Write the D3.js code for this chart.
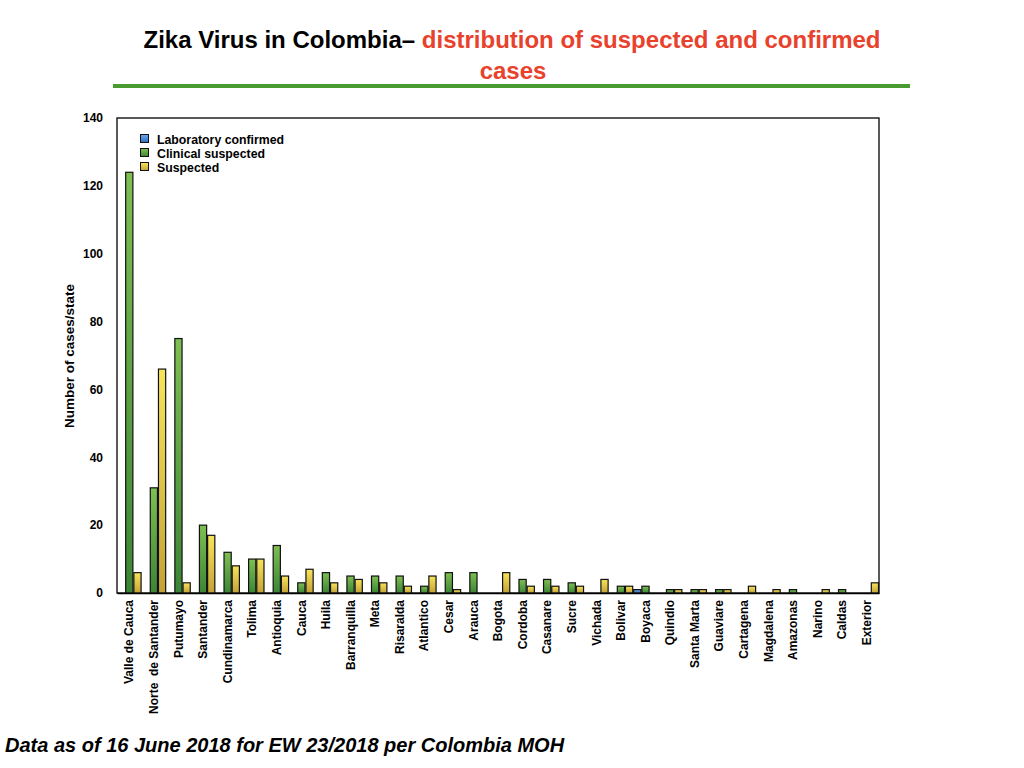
<!DOCTYPE html>
<html><head><meta charset="utf-8">
<script src="https://cdn.jsdelivr.net/npm/d3@7"></script>
<style>
body{margin:0;background:#fff;}
text{font-family:"Liberation Sans",Arial,Helvetica,sans-serif;}
</style></head>
<body>
<svg id="c" width="1024" height="768"></svg>
<script>
const categories = ["Valle de Cauca","Norte  de Santander","Putumayo","Santander","Cundinamarca","Tolima","Antioquia","Cauca","Huila","Barranquilla","Meta","Risaralda","Atlantico","Cesar","Arauca","Bogota","Cordoba","Casanare","Sucre","Vichada","Bolivar","Boyaca","Quindio","Santa Marta","Guaviare","Cartagena","Magdalena","Amazonas","Narino","Caldas","Exterior"];
const labConfirmed = [0,0,0,0,0,0,0,0,0,0,0,0,0,0,0,0,0,0,0,0,0,1,0,0,0,0,0,0,0,0,0];
const clinicalSuspected = [124,31,75,20,12,10,14,3,6,5,5,5,2,6,6,0,4,4,3,0,2,2,1,1,1,0,0,1,0,1,0];
const suspected = [6,66,3,17,8,10,5,7,3,4,3,2,5,1,0,6,2,2,2,4,2,0,1,1,1,2,1,0,1,0,3];
const seriesNames = ["Laboratory confirmed","Clinical suspected","Suspected"];
const yTicks = [0,20,40,60,80,100,120,140];

const svg = d3.select("#c");
const defs = svg.append("defs");
const grads = [["gBlue","#6aa8ee","#2f6fc0"],["gGreen","#7fbf52","#3b8535"],["gYellow","#f7e45a","#c4a236"]];
grads.forEach(([id,c1,c2])=>{
  const g = defs.append("linearGradient").attr("id",id).attr("x1",0).attr("y1",0).attr("x2",0).attr("y2",1);
  g.append("stop").attr("offset","0%").attr("stop-color",c1);
  g.append("stop").attr("offset","100%").attr("stop-color",c2);
});
const fills = ["url(#gBlue)","url(#gGreen)","url(#gYellow)"];

// Title
const t1 = svg.append("text").attr("x",512).attr("y",48).attr("text-anchor","middle")
  .style("font-size","24px").style("font-weight","bold");
t1.append("tspan").attr("fill","#000").text("Zika Virus in Colombia– ");
t1.append("tspan").attr("fill","#e8412c").text("distribution of suspected and confirmed");
svg.append("text").attr("x",513).attr("y",79).attr("text-anchor","middle")
  .style("font-size","24px").style("font-weight","bold").attr("fill","#e8412c").text("cases");
svg.append("line").attr("x1",113).attr("x2",910).attr("y1",86).attr("y2",86)
  .attr("stroke","#4a9a32").attr("stroke-width",4);

const L=117, R=879, T=118, B=593;
const x = d3.scaleBand().domain(categories).range([L,R]).paddingInner(0).paddingOuter(0);
const xs = d3.scaleBand().domain([0,1,2]).range([0,x.bandwidth()]).paddingInner(0.12).paddingOuter(0.06);
const y = d3.scaleLinear().domain([0,140]).range([B,T]);

// Frame
svg.append("rect").attr("x",L).attr("y",T).attr("width",R-L).attr("height",B-T)
  .attr("fill","none").attr("stroke","#000").attr("stroke-width",1.3);

// Bars
const series = [labConfirmed, clinicalSuspected, suspected];
series.forEach((vals,si)=>{
  svg.append("g").selectAll("rect").data(vals.map((v,i)=>({v,c:categories[i]})).filter(d=>d.v>0))
    .join("rect")
    .attr("x",d=>x(d.c)+xs(si)).attr("width",xs.bandwidth())
    .attr("y",d=>y(d.v)).attr("height",d=>B-y(d.v))
    .attr("fill",fills[si]).attr("stroke","#111").attr("stroke-width",1.2);
});

// Y axis
const ya = svg.append("g").attr("transform",`translate(${L},0)`)
  .call(d3.axisLeft(y).tickValues(yTicks).tickSize(0).tickPadding(14));
ya.select(".domain").remove();
ya.selectAll("text").style("font-size","12px").style("font-weight","bold").attr("fill","#000")
  .style("font-family","'Liberation Sans',Arial,sans-serif");

// X axis
const xa = svg.append("g").attr("transform",`translate(0,${B})`)
  .call(d3.axisBottom(x).tickSize(0));
xa.select(".domain").attr("stroke","#000").attr("stroke-width",1.5);
xa.selectAll("text").style("font-size","12px").style("font-weight","bold").attr("fill","#000")
  .style("font-family","'Liberation Sans',Arial,sans-serif")
  .attr("text-anchor","end").attr("transform","rotate(-90)")
  .attr("x",-7).attr("y",0).attr("dy","0.35em").style("white-space","pre");

// Y title
svg.append("text").attr("transform","translate(74,356) rotate(-90)").attr("text-anchor","middle")
  .style("font-size","13.5px").style("font-weight","bold").text("Number of cases/state");

// Legend
const lg = svg.append("g");
seriesNames.forEach((n,i)=>{
  lg.append("rect").attr("x",140.5).attr("y",134.5+i*14).attr("width",8).attr("height",8)
    .attr("fill",fills[i]).attr("stroke","#111").attr("stroke-width",1);
  lg.append("text").attr("x",157).attr("y",143.5+i*14).style("font-size","12.3px").style("font-weight","bold").text(n);
});

// Footer
svg.append("text").attr("x",5).attr("y",752).style("font-size","20px").style("font-weight","bold")
  .style("font-style","italic").text("Data as of 16 June 2018 for EW 23/2018 per Colombia MOH");
</script>
</body></html>
